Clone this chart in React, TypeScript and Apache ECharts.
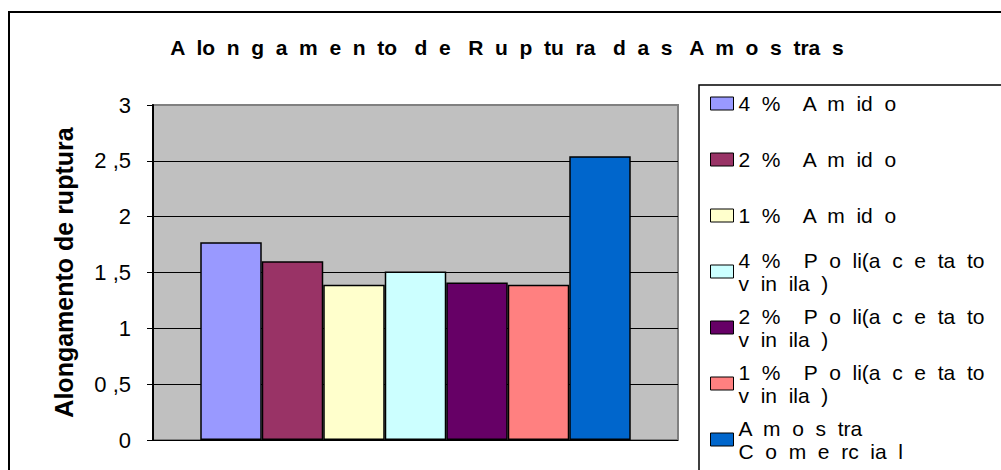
import React, { useEffect, useRef } from 'react';
import * as echarts from 'echarts';

const titleText = 'A  lo  n  g  a  m  e  n  to   d  e   R  u  p  tu  ra   d  a  s   A  m  o  s  tra  s';
const yAxisName = 'Alongamento de ruptura';
const categories = ['Amostras'];
const seriesNames = [
  '4% Amido',
  '2% Amido',
  '1% Amido',
  '4% Poli(acetato vinila)',
  '2% Poli(acetato vinila)',
  '1% Poli(acetato vinila)',
  'Amostra Comercial',
];
const legendLabels = [
  '4  %    A  m  id  o',
  '2  %    A  m  id  o',
  '1  %    A  m  id  o',
  '4  %    P  o  li(a  c  e  ta  to\nv  in  ila  )',
  '2  %    P  o  li(a  c  e  ta  to\nv  in  ila  )',
  '1  %    P  o  li(a  c  e  ta  to\nv  in  ila  )',
  'A  m  o  s  tra\nC  o  m  e  rc  ia  l',
];
const values = [1.77, 1.6, 1.39, 1.51, 1.41, 1.39, 2.54];
const colors = ['#9999FF', '#993366', '#FFFFCC', '#CCFFFF', '#660066', '#FF8080', '#0066CC'];
const yTickValues = [0, 0.5, 1, 1.5, 2, 2.5, 3];
const yTickLabels = ['0', '0 ,5', '1', '1 ,5', '2', '2 ,5', '3'];

const FONT = '"Liberation Sans", Arial, sans-serif';

export default function App() {
  const ref = useRef<HTMLDivElement>(null);

  useEffect(() => {
    document.body.style.margin = '0';
    if (!ref.current) return;
    const chart = echarts.init(ref.current, null, { renderer: 'svg' });

    const legends = seriesNames.map((name, i) => {
      const twoLine = legendLabels[i].includes('\n');
      const iconTop = 97 + i * 56;
      return {
        data: [name],
        orient: 'vertical',
        left: 710,
        top: iconTop - (twoLine ? 28 : 5),
        itemWidth: 23,
        itemHeight: 13,
        itemGap: 0,
        padding: 0,
        icon: 'rect',
        selectedMode: false,
        formatter: () => legendLabels[i],
        itemStyle: { borderColor: '#000', borderWidth: 1 },
        textStyle: {
          fontSize: 21,
          lineHeight: 23,
          color: '#000',
          fontFamily: FONT,
          padding: twoLine ? [23, 0, 0, 0] : 0,
        },
      };
    });

    chart.setOption({
      animation: false,
      backgroundColor: '#fff',
      title: {
        text: titleText,
        left: 502,
        top: 32,
        textAlign: 'center',
        textStyle: { fontSize: 21, fontWeight: 'bold', color: '#000', fontFamily: FONT },
      },
      legend: legends,
      grid: {
        left: 153,
        right: 323,
        top: 105,
        bottom: 30,
        show: true,
        backgroundColor: '#C0C0C0',
        borderColor: '#808080',
        borderWidth: 2,
      },
      xAxis: {
        type: 'category',
        data: categories,
        axisLine: { show: false },
        axisTick: { show: false },
        axisLabel: { show: false },
      },
      yAxis: {
        type: 'value',
        min: 0,
        max: 3,
        interval: 0.5,
        name: yAxisName,
        nameLocation: 'middle',
        nameGap: 77,
        nameTextStyle: { fontSize: 25, fontWeight: 'bold', color: '#000', fontFamily: FONT },
        axisLine: { show: true, lineStyle: { color: '#000', width: 2 } },
        axisTick: { show: true, inside: false, length: 6, lineStyle: { color: '#000', width: 1 } },
        axisLabel: {
          margin: 22,
          fontSize: 22,
          color: '#000',
          fontFamily: FONT,
          formatter: (v: number) => {
            const idx = yTickValues.findIndex((t) => Math.abs(t - v) < 1e-9);
            return idx >= 0 ? yTickLabels[idx] : String(v);
          },
        },
        splitLine: { show: true, showMaxLine: false, lineStyle: { color: '#000', width: 1 } },
      },
      series: seriesNames.map((name, i) => ({
        name,
        type: 'bar',
        data: [values[i]],
        barGap: '0%',
        barCategoryGap: '18%',
        itemStyle: { color: colors[i], borderColor: '#000', borderWidth: 1.5 },
      })),
      graphic: [
        {
          type: 'rect',
          shape: { x: 9, y: 12, width: 1100, height: 600 },
          style: { fill: 'none', stroke: '#000', lineWidth: 2 },
          silent: true,
        },
        {
          type: 'rect',
          shape: { x: 699, y: 85, width: 400, height: 500 },
          style: { fill: 'none', stroke: '#000', lineWidth: 1.5 },
          silent: true,
        },
      ],
    });

    return () => chart.dispose();
  }, []);

  return <div ref={ref} style={{ width: 1001, height: 470 }} />;
}
